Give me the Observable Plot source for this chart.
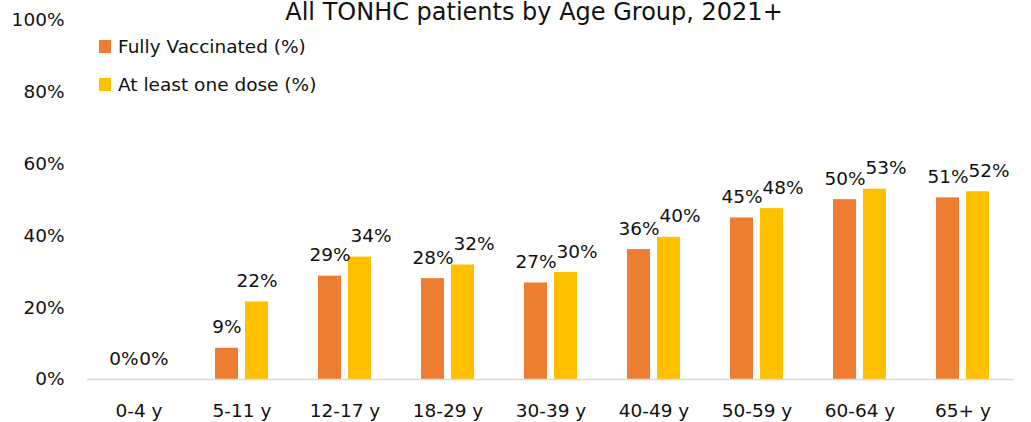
<!DOCTYPE html>
<html><head><meta charset="utf-8">
<script src="https://cdn.jsdelivr.net/npm/d3@7"></script>
<script src="https://cdn.jsdelivr.net/npm/@observablehq/plot@0.6"></script>
<style>
html,body{margin:0;padding:0;background:#fff;overflow:hidden}
#wrap{position:relative;width:1031px;height:422px;font-family:"DejaVu Sans",sans-serif;color:#111}
#title{position:absolute;top:0px;left:534px;transform:translateX(-50%);white-space:nowrap;font-size:24px;line-height:24px}
.sw{position:absolute;left:99px;width:12px;height:13px}
.lt{position:absolute;left:118px;font-size:18.5px;line-height:19px;white-space:nowrap}
svg{display:block}
</style></head><body><div id="wrap"></div>
<script>
const ageGroups = ["0-4 y", "5-11 y", "12-17 y", "18-29 y", "30-39 y", "40-49 y", "50-59 y", "60-64 y", "65+ y"];
const fullyVaccinated = [0, 8.7, 28.8, 28.1, 26.9, 36.2, 45.0, 50.1, 50.6];
const atLeastOneDose = [0, 21.6, 34.1, 31.9, 29.8, 39.6, 47.6, 53.0, 52.3];
const seriesNames = ["Fully Vaccinated (%)", "At least one dose (%)"];
const seriesColors = ["#ED7D31", "#FFC000"];
const yTicks = [0, 20, 40, 60, 80, 100];
const titleText = "All TONHC patients by Age Group, 2021+";

const data = ageGroups.flatMap((g, i) => [
  {group: g, series: seriesNames[0], value: fullyVaccinated[i], i},
  {group: g, series: seriesNames[1], value: atLeastOneDose[i], i}
]);
// second-series labels that would collide with the first-series label are nudged right
const crowded = d => d.series === seriesNames[1] &&
  Math.abs(atLeastOneDose[d.i] - fullyVaccinated[d.i]) < 6 && fullyVaccinated[d.i] >= 10;
const fmt = d => Math.round(d.value) + "%";

const chart = Plot.plot({
  width: 1031, height: 422,
  marginTop: 20, marginBottom: 43, marginLeft: 85, marginRight: 16,
  style: {fontFamily: "DejaVu Sans, sans-serif", fontSize: "18.5px", color: "#111", background: "transparent"},
  fx: {domain: ageGroups, padding: 0, label: null, tickSize: 0, tickPadding: 24, axis: "bottom"},
  x: {domain: seriesNames, paddingInner: 0.233, paddingOuter: 0.833, axis: null},
  y: {domain: [0, 100], ticks: yTicks, tickFormat: d => d + "%", tickSize: 0, tickPadding: 23, label: null},
  color: {domain: seriesNames, range: seriesColors},
  marks: [
    Plot.barY(data, {fx: "group", x: "series", y: "value", fill: "series"}),
    Plot.ruleY([0], {stroke: "#D9D9D9", strokeWidth: 1.5}),
    Plot.text(data.filter(d => !crowded(d)), {fx: "group", x: "series", y: "value", text: fmt, lineAnchor: "bottom", dy: -15, fill: "#111"}),
    Plot.text(data.filter(crowded), {fx: "group", x: "series", y: "value", text: fmt, lineAnchor: "bottom", dy: -15, dx: 11, fill: "#111"})
  ]
});

const wrap = document.getElementById("wrap");
wrap.appendChild(chart);
const t = document.createElement("div");
t.id = "title"; t.textContent = titleText; wrap.appendChild(t);
seriesNames.forEach((name, k) => {
  const sw = document.createElement("div");
  sw.className = "sw"; sw.style.top = (40 + 38 * k) + "px"; sw.style.background = seriesColors[k];
  const lt = document.createElement("div");
  lt.className = "lt"; lt.style.top = (37 + 38 * k) + "px"; lt.textContent = name;
  wrap.appendChild(sw); wrap.appendChild(lt);
});
</script></body></html>
